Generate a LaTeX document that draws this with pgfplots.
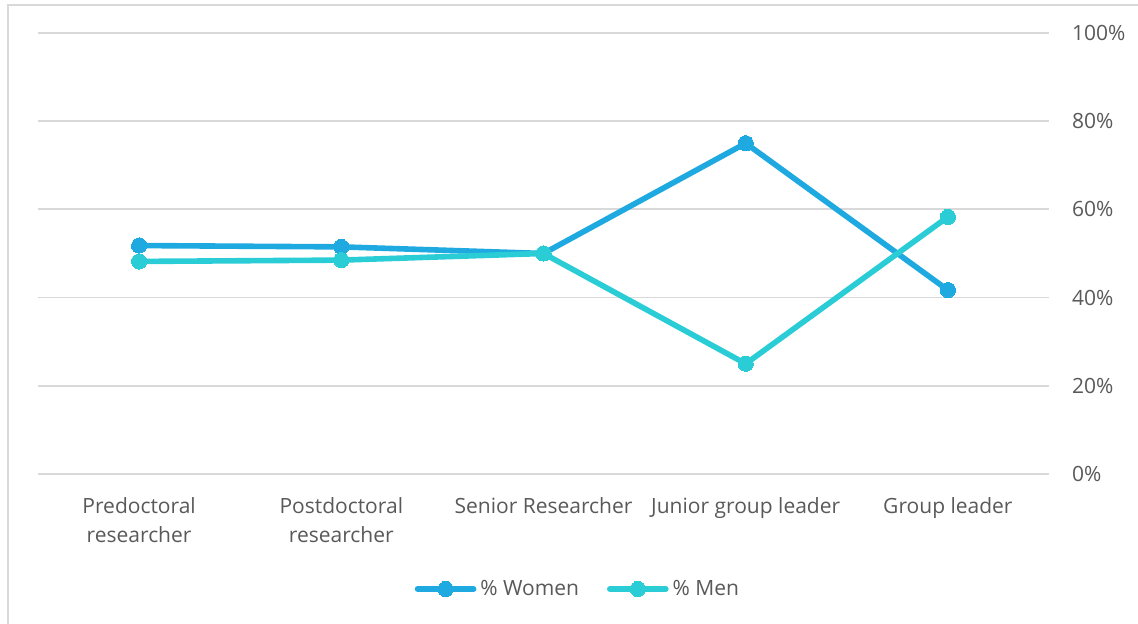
\documentclass[border=0pt]{standalone}
\usepackage{fontspec}
\setmainfont{Open Sans}
\usepackage{pgfplots}
\pgfplotsset{compat=1.18}
\definecolor{women}{HTML}{1FA9E1}
\definecolor{men}{HTML}{2ACDD6}
\definecolor{gridc}{HTML}{D9D9D9}
\definecolor{txt}{HTML}{595959}
\begin{document}
\begin{tikzpicture}[x=1pt,y=1pt]
\useasboundingbox (0,0) rectangle (569,312);
\begin{scope}
\clip (0,0) rectangle (569,312);
\draw[gridc, line width=0.9pt] (4,-10) rectangle (600,309.5);
\end{scope}
\begin{axis}[
  at={(19pt,75pt)}, anchor=south west,
  scale only axis, width=505.5pt, height=220.5pt,
  xmin=-0.5, xmax=4.5, ymin=0, ymax=100,
  xtick={0,1,2,3,4},
  xticklabels={{Predoctoral\\researcher},{Postdoctoral\\researcher},{Senior Researcher},{Junior group leader},{Group leader}},
  xticklabel style={align=center, font=\fontsize{10.5}{14.5}\selectfont, text=txt, yshift=-8pt},
  ytick={0,20,40,60,80,100},
  yticklabel={\pgfmathprintnumber{\tick}\%},
  yticklabel pos=right,
  yticklabel style={anchor=west, xshift=8pt, font=\fontsize{10.5}{14}\selectfont, text=txt},
  /pgf/number format/assume math mode=true,
  axis line style={draw=none},
  major tick style={draw=none},
  ymajorgrids, grid style={gridc, line width=0.9pt},
  legend style={at={(rel axis cs:0.535,0)}, anchor=center, yshift=-57.5pt, draw=none,
    font=\fontsize{10.5}{14}\selectfont, text=txt, inner sep=0pt},
  legend columns=2,
  /tikz/every even column/.append style={column sep=12pt},
  legend image code/.code={\draw[mark repeat=2,mark phase=2,line cap=round,#1] plot coordinates {(0pt,0pt) (14pt,0pt) (28pt,0pt)};},
]
\addplot[women, line width=2.8pt, mark=*, mark size=3.8pt, mark options={solid, fill=women, line width=0pt}]
  coordinates {(0,51.8) (1,51.5) (2,50.0) (3,75.0) (4,41.7)};
\addlegendentry{\% Women}
\addplot[men, line width=2.8pt, mark=*, mark size=3.8pt, mark options={solid, fill=men, line width=0pt}]
  coordinates {(0,48.2) (1,48.5) (2,50.0) (3,25.0) (4,58.3)};
\addlegendentry{\% Men}
\end{axis}
\end{tikzpicture}
\end{document}
